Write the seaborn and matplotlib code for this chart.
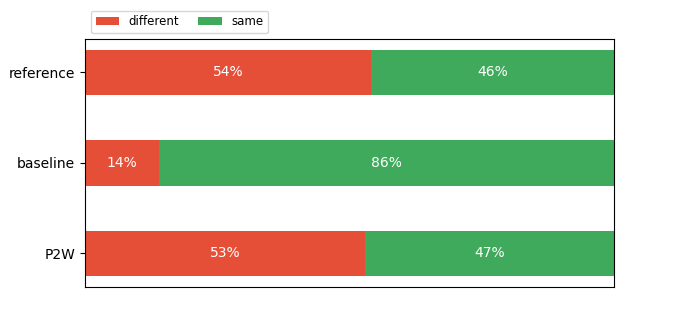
import matplotlib
matplotlib.use("Agg")
import matplotlib.pyplot as plt
import pandas as pd
import seaborn as sns

methods = ["reference", "baseline", "P2W"]
different = [0.54, 0.14, 0.53]
same = [0.46, 0.86, 0.47]

RED = "#e64f37"
GREEN = "#3faa5b"

df = pd.DataFrame({"method": methods, "different": different, "same": same})
df["total"] = df["different"] + df["same"]

fig = plt.figure(figsize=(6.82, 3.23), dpi=100)
ax = fig.add_axes([0.1246, 0.1115, 0.7757, 0.7678])

# stacked: full bar in green, then the "different" share on top in red
sns.barplot(data=df, y="method", x="total", orient="h", color=GREEN,
            width=0.5, saturation=1, label="same", ax=ax)
sns.barplot(data=df, y="method", x="different", orient="h", color=RED,
            width=0.5, saturation=1, label="different", ax=ax)

for i, row in df.iterrows():
    ax.text(row["different"] / 2, i, f"{row['different'] * 100:.0f}%",
            color="white", ha="center", va="center", fontsize=10)
    ax.text(row["different"] + row["same"] / 2, i, f"{row['same'] * 100:.0f}%",
            color="white", ha="center", va="center", fontsize=10)

ax.set_xlim(0, 1)
ax.set_ylim(2.37, -0.37)
ax.set_xticks([])
ax.set_xlabel("")
ax.set_ylabel("")
ax.tick_params(axis="y", labelsize=10)

handles, labels = ax.get_legend_handles_labels()
order = [labels.index("different"), labels.index("same")]
ax.legend([handles[k] for k in order], [labels[k] for k in order],
          loc="lower left", bbox_to_anchor=(0, 1.0), ncol=2, fontsize=8.5,
          borderaxespad=0.5, columnspacing=1.6)

fig.savefig("out.png", dpi=100)
